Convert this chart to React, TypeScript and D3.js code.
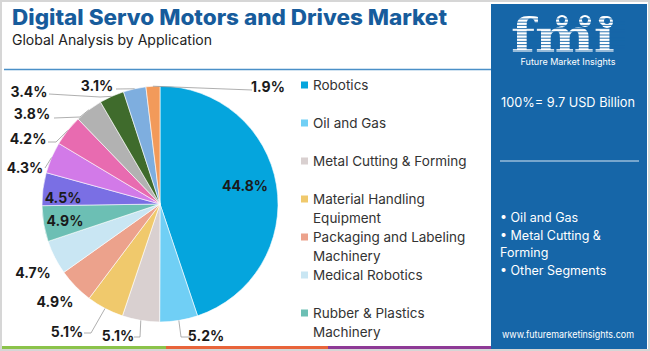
import React, { useEffect, useRef } from "react";
import * as d3 from "d3";

// market split by application (share %, clockwise from 12 o'clock)
const categories = [
  "Robotics",
  "Oil and Gas",
  "Metal Cutting & Forming",
  "Material Handling Equipment",
  "Packaging and Labeling Machinery",
  "Medical Robotics",
  "Rubber & Plastics Machinery",
  "Segment 8",
  "Segment 9",
  "Segment 10",
  "Segment 11",
  "Segment 12",
  "Segment 13",
  "Segment 14"
];
const shares = [44.8, 5.2, 5.1, 5.1, 4.9, 4.7, 4.9, 4.5, 4.3, 4.2, 3.8, 3.4, 3.1, 1.9];
const sliceColors = [
  "#05a5dd", "#70cff5", "#d9d0d0", "#f0c96c", "#eca28c", "#c9e6f3", "#6cbfb4",
  "#7a6fe4", "#d27ae8", "#e86bb0", "#b2b2b2", "#3f6b2c", "#7eaedf", "#f29a5a"
];

// legend shows only the first segments, wrapped as in the source
const legendLines = [
  ["Robotics"],
  ["Oil and Gas"],
  ["Metal Cutting & Forming"],
  ["Material Handling", "Equipment"],
  ["Packaging and Labeling", "Machinery"],
  ["Medical Robotics"],
  ["Rubber & Plastics", "Machinery"]
];

const totalText = "100%= 9.7 USD Billion";
const sideBullets = ["• Oil and Gas", "• Metal Cutting &", "Forming", "• Other Segments"];

// label placement (text centre + elbow points for the leader line), layout only
const labelSpots: { x: number; y: number; inside?: boolean; elbow?: [number, number][] }[] = [
  { x: 245, y: 185, inside: true },
  { x: 206, y: 335, elbow: [[181, 337], [191, 337]] },
  { x: 118, y: 335, elbow: [[140, 337], [134, 337]] },
  { x: 67, y: 331, elbow: [[91, 333], [84, 333]] },
  { x: 55, y: 301 },
  { x: 33, y: 272 },
  { x: 65, y: 220, inside: true },
  { x: 63, y: 197, inside: true },
  { x: 25, y: 167, elbow: [[45, 168]] },
  { x: 28, y: 138, elbow: [[56, 142], [48, 142]] },
  { x: 32, y: 113, elbow: [[80, 117], [54, 118]] },
  { x: 29, y: 91, elbow: [[100, 97], [49, 94]] },
  { x: 97, y: 85, elbow: [[116, 89]] },
  { x: 268, y: 86, elbow: [[252, 90]] }
];

const W = 650;
const H = 351;

const App: React.FC = () => {
  const svgRef = useRef<SVGSVGElement>(null);

  useEffect(() => {
    if (!svgRef.current) return;
    const svg = d3.select(svgRef.current);
    svg.selectAll("*").remove();

    const font = "Inter, 'Open Sans', sans-serif";

    svg.append("rect")
      .attr("x", 0).attr("y", 0).attr("width", W).attr("height", H)
      .attr("fill", "#ffffff");

    // header
    svg.append("text")
      .attr("x", 12).attr("y", 25)
      .attr("textLength", 435)
      .attr("lengthAdjust", "spacingAndGlyphs")
      .style("font-family", font)
      .style("font-size", "21px")
      .style("font-weight", 800)
      .attr("fill", "#175c9c")
      .text("Digital Servo Motors and Drives Market");

    svg.append("text")
      .attr("x", 12).attr("y", 45)
      .attr("textLength", 200)
      .attr("lengthAdjust", "spacingAndGlyphs")
      .style("font-family", font)
      .style("font-size", "14px")
      .attr("fill", "#222")
      .text("Global Analysis by Application");

    svg.append("line")
      .attr("x1", 4).attr("x2", 492).attr("y1", 69.5).attr("y2", 69.5)
      .attr("stroke", "#4a90c8").attr("stroke-width", 1.5);

    // pie
    const cx = 160, cy = 204, R = 118;
    const pie = d3.pie<number>().sort(null).value(d => d);
    const arcs = pie(shares);
    const arc = d3.arc<d3.PieArcDatum<number>>().innerRadius(0).outerRadius(R);

    const g = svg.append("g").attr("transform", `translate(${cx},${cy})`);
    g.selectAll("path.slice")
      .data(arcs)
      .join("path")
      .attr("class", "slice")
      .attr("d", arc)
      .attr("fill", (d, i) => sliceColors[i])
      .attr("stroke", "#ffffff")
      .attr("stroke-width", 0.6)
      .attr("data-name", (d, i) => categories[i]);

    // leader lines
    arcs.forEach((a, i) => {
      const spot = labelSpots[i];
      if (!spot.elbow) return;
      const mid = (a.startAngle + a.endAngle) / 2;
      const start: [number, number] = [cx + R * Math.sin(mid), cy - R * Math.cos(mid)];
      const pts = [start, ...spot.elbow];
      svg.append("path")
        .attr("d", d3.line()(pts) as string)
        .attr("fill", "none")
        .attr("stroke", "#9a9a9a")
        .attr("stroke-width", 0.8);
    });

    svg.selectAll("text.pct")
      .data(arcs)
      .join("text")
      .attr("class", "pct")
      .attr("x", (d, i) => labelSpots[i].x)
      .attr("y", (d, i) => labelSpots[i].y)
      .attr("text-anchor", "middle")
      .attr("dominant-baseline", "central")
      .style("font-family", font)
      .style("font-size", "14px")
      .style("font-weight", 700)
      .attr("fill", "#1a1a1a")
      .text(d => `${d.data.toFixed(1)}%`);

    // legend
    const legend = svg.append("g");
    let ly = 85;
    legendLines.forEach((lines, i) => {
      legend.append("rect")
        .attr("x", 301).attr("y", ly - 3.5)
        .attr("width", 7).attr("height", 7)
        .attr("fill", sliceColors[i]);
      lines.forEach((ln, k) => {
        legend.append("text")
          .attr("x", 313).attr("y", ly + k * 19)
          .attr("dominant-baseline", "central")
          .style("font-family", font)
          .style("font-size", "13.5px")
          .attr("fill", "#333")
          .text(ln);
      });
      ly += 38;
    });

    // bottom colour strip
    const strip = [["#8bc34a", 2, 166], ["#e8643a", 166, 328], ["#8e3a96", 328, 492]] as const;
    strip.forEach(([c, x0, x1]) => {
      svg.append("rect")
        .attr("x", x0).attr("y", 346).attr("width", x1 - x0).attr("height", 3.5)
        .attr("fill", c);
    });

    // right panel
    const px = 491, pw = 156;
    const pmid = px + pw / 2 - 1;
    svg.append("rect")
      .attr("x", px).attr("y", 4).attr("width", pw).attr("height", 345)
      .attr("fill", "#1666a8");

    // fmi logo
    const logo = svg.append("g");
    logo.append("text")
      .attr("x", pmid - 5).attr("y", 52)
      .attr("text-anchor", "middle")
      .attr("textLength", 104)
      .attr("lengthAdjust", "spacingAndGlyphs")
      .style("font-family", "'DejaVu Serif', serif")
      .style("font-size", "46px")
      .style("font-weight", 700)
      .attr("fill", "#ffffff")
      .text("fmi");
    [[562, 21], [585, 21], [607, 22]].forEach(([x, y]) => {
      logo.append("circle").attr("cx", x).attr("cy", y).attr("r", 6).attr("fill", "#ffffff");
      logo.append("circle").attr("cx", x).attr("cy", y - 1).attr("r", 3).attr("fill", "#1666a8");
    });
    d3.range(19, 54, 3.2).forEach(y => {
      logo.append("line")
        .attr("x1", 510).attr("x2", 625).attr("y1", y).attr("y2", y)
        .attr("stroke", "#1666a8").attr("stroke-width", 0.9);
    });
    svg.append("text")
      .attr("x", pmid).attr("y", 65)
      .attr("text-anchor", "middle")
      .style("font-family", font)
      .style("font-size", "9px")
      .attr("fill", "#ffffff")
      .text("Future Market Insights");

    svg.append("text")
      .attr("x", pmid).attr("y", 107)
      .attr("text-anchor", "middle")
      .attr("textLength", 134)
      .attr("lengthAdjust", "spacingAndGlyphs")
      .style("font-family", font)
      .style("font-size", "13.5px")
      .attr("fill", "#ffffff")
      .text(totalText);

    svg.append("line")
      .attr("x1", 500).attr("x2", 639).attr("y1", 161).attr("y2", 161)
      .attr("stroke", "#d7e6f3").attr("stroke-width", 1);

    sideBullets.forEach((t, i) => {
      svg.append("text")
        .attr("x", 500).attr("y", 222 + i * 17.5)
        .style("font-family", font)
        .style("font-size", "12.5px")
        .attr("fill", "#ffffff")
        .text(t);
    });

    svg.append("text")
      .attr("x", pmid).attr("y", 338)
      .attr("text-anchor", "middle")
      .attr("textLength", 132)
      .attr("lengthAdjust", "spacingAndGlyphs")
      .style("font-family", font)
      .style("font-size", "9.5px")
      .attr("fill", "#ffffff")
      .text("www.futuremarketinsights.com");

    // outer frame
    svg.append("rect")
      .attr("x", 1).attr("y", 1).attr("width", W - 2).attr("height", H - 2)
      .attr("fill", "none").attr("stroke", "#d6d6d6").attr("stroke-width", 2);
  }, []);

  return (
    <svg
      ref={svgRef}
      width={W}
      height={H}
      style={{ position: "absolute", left: 0, top: 0, display: "block" }}
    />
  );
};

export default App;
